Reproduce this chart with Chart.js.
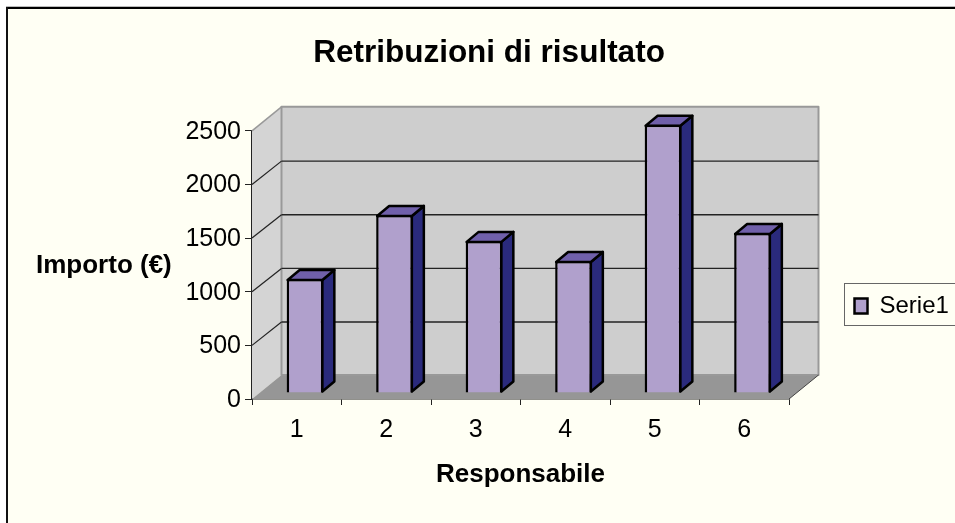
<!DOCTYPE html>
<html>
<head>
<meta charset="utf-8">
<title>Retribuzioni di risultato</title>
<script src="https://cdn.jsdelivr.net/npm/chart.js@4/dist/chart.umd.min.js"></script>
<style>
  html, body { margin: 0; padding: 0; background: #fff; }
  canvas { display: block; }
</style>
</head>
<body>
<canvas id="chart" width="955" height="523"></canvas>
<script>
var categories = ["1", "2", "3", "4", "5", "6"];
var importi = [1063, 1660, 1418, 1231, 2500, 1492];
var yTicks = [0, 500, 1000, 1500, 2000, 2500];

var font = "'Liberation Sans', Arial, sans-serif";
var bg = "#fffff4";
var barFront = "#b0a0cc", barTop = "#7060aa", barSide = "#2a2a7c";

// depth of the room, and of the bars inside it
var roomDx = 29.5, roomDy = 24;
var barShiftX = 8.25, barShiftY = -6;
var barDx = 12, barDy = 10;

function poly(ctx, pts, fill, stroke, lw) {
    ctx.beginPath();
    pts.forEach(function (p, i) { i ? ctx.lineTo(p[0], p[1]) : ctx.moveTo(p[0], p[1]); });
    ctx.closePath();
    if (fill) { ctx.fillStyle = fill; ctx.fill(); }
    if (stroke) { ctx.strokeStyle = stroke; ctx.lineWidth = lw; ctx.lineJoin = "round"; ctx.stroke(); }
}

function line(ctx, x1, y1, x2, y2, color, lw) {
    ctx.beginPath();
    ctx.moveTo(x1, y1);
    ctx.lineTo(x2, y2);
    ctx.strokeStyle = color;
    ctx.lineWidth = lw;
    ctx.stroke();
}

var excel3d = {
    id: "excel3d",
    afterLayout: function (chart) {
        // title sits a bit right of the canvas centre, legend in its own box
        chart.titleBlock.left = 23;
        chart.titleBlock.right = 955;
        var lg = chart.legend;
        lg.width = 111; lg.height = 43;
        lg.left = 844.5; lg.right = 955; lg.top = 284; lg.bottom = 327;
    },
    beforeDraw: function (chart) {
        var ctx = chart.ctx;
        ctx.save();
        ctx.fillStyle = bg;
        ctx.fillRect(8, 8, 947, 515);
        // frame of the original picture, open at right and bottom
        ctx.fillStyle = "#bbb";
        ctx.fillRect(6, 6, 949, 1);
        ctx.fillStyle = "#000";
        ctx.fillRect(7, 7, 948, 2);
        ctx.fillStyle = "#111";
        ctx.fillRect(6, 7, 2, 516);
        ctx.restore();
    },
    beforeDatasetsDraw: function (chart) {
        var ctx = chart.ctx, y = chart.scales.y, a = chart.chartArea;
        var l = a.left, r = a.right, t = a.top, b = a.bottom;
        ctx.save();
        // side wall, floor, back wall
        poly(ctx, [[l, t], [l + roomDx, t - roomDy], [l + roomDx, b - roomDy], [l, b]], "#d4d4d4");
        poly(ctx, [[l, b], [l + roomDx, b - roomDy], [r + roomDx, b - roomDy], [r, b]], "#969696");
        poly(ctx, [[l + roomDx, t - roomDy], [r + roomDx, t - roomDy], [r + roomDx, b - roomDy], [l + roomDx, b - roomDy]], "#cecece", "#999", 2);
        line(ctx, l, t, l + roomDx, t - roomDy, "#999", 1.5);
        line(ctx, r, b, r + roomDx, b - roomDy, "#444", 1);
        yTicks.forEach(function (v) {
            if (v === 0 || v === 2500) return;
            var py = y.getPixelForValue(v);
            line(ctx, l, py, l + roomDx, py - roomDy + 0.7, "#222", 1.2);
            line(ctx, l + roomDx, py - roomDy + 0.7, r + roomDx, py - roomDy + 0.7, "#222", 1.4);
        });
        // bars sit in the middle of the room
        ctx.translate(barShiftX, barShiftY);
        chart.getDatasetMeta(0).data.forEach(function (bar) {
            var p = bar.getProps(["x", "y", "base", "width"], true);
            var x1 = p.x - p.width / 2 + 1, x2 = p.x + p.width / 2 - 1;
            var top = p.y + 1, base = p.base - 1;
            poly(ctx, [[x2, top], [x2 + barDx, top - barDy], [x2 + barDx, base - barDy], [x2, base]], barSide, "#000", 2.5);
            poly(ctx, [[x1, top], [x1 + barDx, top - barDy], [x2 + barDx, top - barDy], [x2, top]], barTop, "#000", 2.5);
        });
    },
    afterDatasetsDraw: function (chart) {
        chart.ctx.restore();
    },
    afterDraw: function (chart) {
        var ctx = chart.ctx;
        ctx.save();
        // axis title stays horizontal here, the scale title option would rotate it
        ctx.font = "bold 26px " + font;
        ctx.fillStyle = "#000";
        ctx.textAlign = "left";
        ctx.textBaseline = "middle";
        ctx.fillText("Importo (€)", 36, 266);
        ctx.strokeStyle = "#666";
        ctx.lineWidth = 1;
        ctx.strokeRect(844.5, 283.5, 120, 42);
        ctx.restore();
    }
};

new Chart(document.getElementById("chart"), {
    type: "bar",
    plugins: [excel3d],
    data: {
        labels: categories,
        datasets: [{
            label: "Serie1",
            data: importi,
            backgroundColor: barFront,
            borderColor: "#000",
            borderWidth: 2.5,
            barPercentage: 0.41,
            categoryPercentage: 1,
            clip: false
        }]
    },
    options: {
        responsive: false,
        animation: false,
        layout: { padding: { left: 0, right: 166, top: 0, bottom: 0 } },
        plugins: {
            tooltip: { enabled: false },
            title: {
                display: true,
                text: "Retribuzioni di risultato",
                color: "#000",
                font: { family: font, size: 31.5, weight: "bold", lineHeight: 1.2 },
                padding: { top: 34, bottom: 59 }
            },
            legend: {
                position: "chartArea",
                align: "start",
                labels: {
                    color: "#000",
                    font: { family: font, size: 24 },
                    boxWidth: 13,
                    boxHeight: 15,
                    padding: 10
                }
            }
        },
        scales: {
            x: {
                afterFit: function (s) { s.height = 124; },
                grid: { drawOnChartArea: false, tickLength: 6, tickColor: "#222", offset: true },
                border: { color: "#222", width: 1.5 },
                ticks: { color: "#000", font: { family: font, size: 25 }, padding: 10, maxRotation: 0 },
                title: {
                    display: true,
                    text: "Responsabile",
                    color: "#000",
                    font: { family: font, size: 26, weight: "bold" },
                    padding: { top: 0, bottom: 33 }
                }
            },
            y: {
                min: 0,
                max: 2500,
                afterFit: function (s) { s.width = 252; },
                afterBuildTicks: function (s) {
                    s.ticks = yTicks.map(function (v) { return { value: v }; });
                },
                grid: { drawOnChartArea: false, tickLength: 7, tickColor: "#222" },
                border: { color: "#222", width: 1.5 },
                ticks: {
                    color: "#000",
                    font: { family: font, size: 25 },
                    padding: 4,
                    labelOffset: 1,
                    callback: function (v) { return String(v); }
                }
            }
        }
    }
});
</script>
</body>
</html>
